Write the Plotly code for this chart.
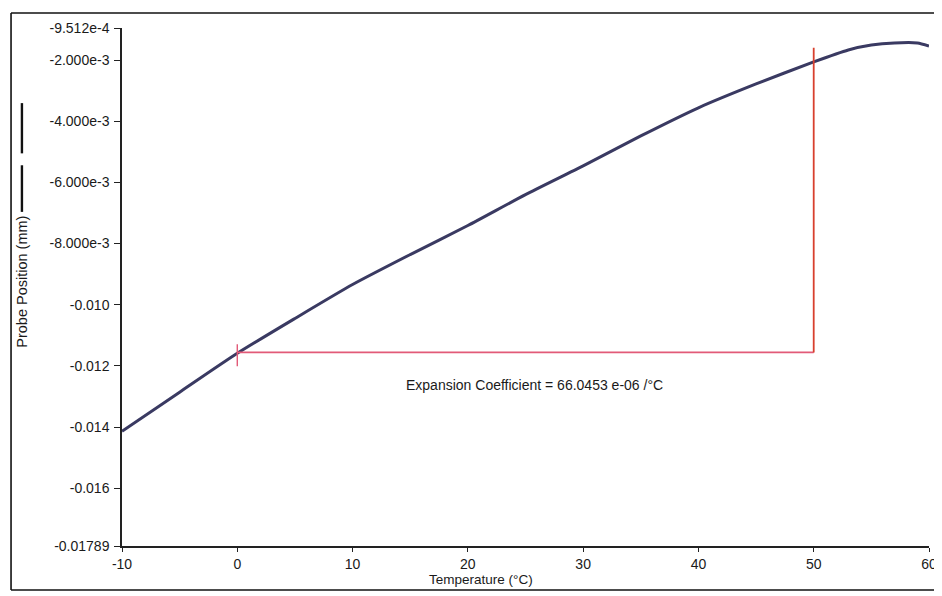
import plotly.graph_objects as go

# Data
temperature = [-10, -5, 0, 5, 10, 15, 20, 25, 30, 35, 40, 45, 50, 53, 55, 57, 59, 60]
probe_position = [-0.01414, -0.01286, -0.01159, -0.01045, -0.00934, -0.00836, -0.00741,
                  -0.00640, -0.00546, -0.00448, -0.00356, -0.00278, -0.00206, -0.00167,
                  -0.00151, -0.00144, -0.00144, -0.00154]

x_ticks = [-10, 0, 10, 20, 30, 40, 50, 60]
x_ticktext = ["-10", "0", "10", "20", "30", "40", "50", "60"]
y_ticks = [-0.0009512, -0.002, -0.004, -0.006, -0.008, -0.010, -0.012, -0.014, -0.016, -0.01789]
y_ticktext = ["-9.512e-4", "-2.000e-3", "-4.000e-3", "-6.000e-3", "-8.000e-3",
              "-0.010", "-0.012", "-0.014", "-0.016", "-0.01789"]

# Expansion-coefficient construction (temperature span and probe levels)
fit_t = [0, 50]
fit_low = -0.01156
fit_high = -0.00160
cross_half = 0.00045
coef_label = "Expansion Coefficient = 66.0453 e-06 /°C"
label_pos = (25.8, -0.01262)

FONT = "Liberation Sans, Arial, sans-serif"
TXT = "#1a1a1a"

fig = go.Figure()

fig.add_trace(go.Scatter(
    x=temperature, y=probe_position, mode="lines",
    line=dict(color="#3a3a62", width=3, shape="spline", smoothing=0.6),
    hoverinfo="x+y", showlegend=False))

# horizontal red line
fig.add_trace(go.Scatter(x=fit_t, y=[fit_low, fit_low], mode="lines",
                         line=dict(color="#e25a78", width=1.6), showlegend=False))
# vertical red line at end
fig.add_trace(go.Scatter(x=[fit_t[1], fit_t[1]], y=[fit_low, fit_high], mode="lines",
                         line=dict(color="#d8402e", width=1.8), showlegend=False))
# small cross tick at start
fig.add_trace(go.Scatter(x=[fit_t[0], fit_t[0]], y=[fit_low + cross_half * 0.6, fit_low - cross_half],
                         mode="lines", line=dict(color="#e25a78", width=1.4), showlegend=False))

fig.add_annotation(x=label_pos[0], y=label_pos[1], text=coef_label, showarrow=False,
                   font=dict(family=FONT, size=14, color=TXT))

# axis titles
fig.add_annotation(xref="paper", yref="paper", x=-0.124, y=0.51, text="Probe Position (mm)",
                   textangle=-90, showarrow=False, xanchor="center", yanchor="middle",
                   font=dict(family=FONT, size=14.5, color=TXT))
fig.add_annotation(xref="paper", yref="paper", x=0.445, y=-0.064, text="Temperature (°C)",
                   showarrow=False, xanchor="center", yanchor="middle",
                   font=dict(family=FONT, size=13.5, color=TXT))

# outer frame lines and legend-like bars
frame = dict(color="#111", width=1.6)
fig.add_shape(type="line", xref="paper", yref="paper", x0=-0.1375, x1=1.02, y0=1.029, y1=1.029, line=frame)
fig.add_shape(type="line", xref="paper", yref="paper", x0=-0.1375, x1=-0.1375, y0=1.029, y1=-0.085, line=frame)
fig.add_shape(type="line", xref="paper", yref="paper", x0=-0.1375, x1=1.02, y0=-0.085, y1=-0.085, line=frame)
fig.add_shape(type="line", xref="paper", yref="paper", x0=-0.124, x1=-0.124, y0=0.855, y1=0.758,
              line=dict(color="#111", width=2.4))
fig.add_shape(type="line", xref="paper", yref="paper", x0=-0.124, x1=-0.124, y0=0.735, y1=0.645,
              line=dict(color="#111", width=2.4))

fig.update_xaxes(range=[-10, 60], tickvals=x_ticks, ticktext=x_ticktext, ticks="outside", ticklen=4,
                 tickcolor="#222", showline=True, linecolor="#222", linewidth=1.5,
                 showgrid=False, zeroline=False, automargin=False, ticklabeloverflow="allow",
                 tickfont=dict(family=FONT, size=14, color=TXT))
fig.update_yaxes(range=[-0.01789, -0.0009512], tickvals=y_ticks, ticktext=y_ticktext,
                 ticks="outside", ticklen=6, tickcolor="#222", showline=True,
                 linecolor="#222", linewidth=1.5, showgrid=False, zeroline=False,
                 automargin=False, ticklabelstandoff=2,
                 tickfont=dict(family=FONT, size=14, color=TXT))

# page body adds an 8px offset, so the figure is sized to fill the remaining window
fig.update_layout(width=934, height=588, margin=dict(l=114, r=13, t=20, b=50),
                  plot_bgcolor="white", paper_bgcolor="white",
                  font=dict(family=FONT, color=TXT))

fig.write_html("out.html")
